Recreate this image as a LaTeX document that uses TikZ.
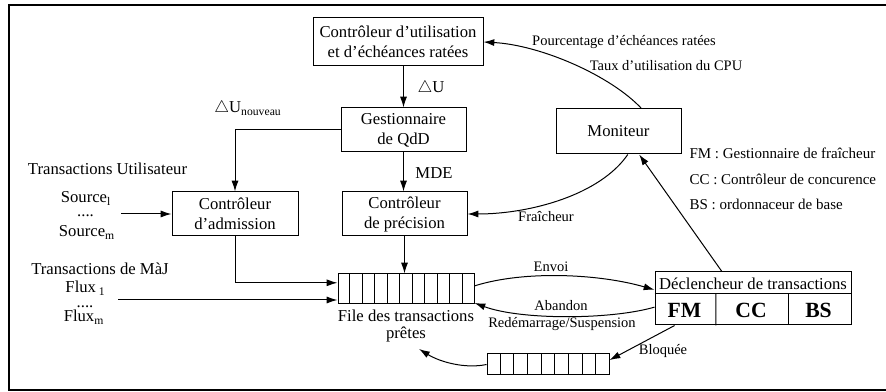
\documentclass[tikz,border=0pt]{standalone}
\usepackage{fontspec}
\setmainfont{Liberation Serif}
\usetikzlibrary{arrows.meta,calc}
\begin{document}
\begin{tikzpicture}[x=0.6pt,y=-0.6pt,
  every node/.style={font=\fontsize{10}{12}\selectfont, inner sep=0pt},
  box/.style={draw, line width=0.6pt, align=center},
  arr/.style={-{Latex[length=6.5pt,width=4.2pt]}, line width=0.6pt},
  lab/.style={font=\fontsize{8.7}{10}\selectfont, anchor=base},
  leg/.style={font=\fontsize{9}{11}\selectfont, anchor=base west},
  txt/.style={anchor=base},
  cellfont/.style={font=\fontsize{13}{15}\selectfont\bfseries},
  line width=0.6pt
]
\useasboundingbox (0,0) rectangle (886,392);
\draw[line width=1.2pt] (886,5) -- (9,5) -- (9,390) -- (886,390);

% boxes
\node[box, minimum width=102pt, minimum height=28.8pt] (util) at (398,42) {Contrôleur d’utilisation\\et d’échéances ratées};
\node[box, minimum width=75pt, minimum height=26.4pt] (qdd) at (403.5,130) {Gestionnaire\\de QdD};
\node[box, minimum width=75pt, minimum height=26.4pt] (prec) at (404.5,214) {Contrôleur\\de précision};
\node[box, minimum width=75.6pt, minimum height=26.4pt] (adm) at (235,214) {Contrôleur\\d’admission};
\node[box, minimum width=75pt, minimum height=27pt] (mon) at (618.5,131.5) {Moniteur};

% ready queue
\node[box, minimum width=81.6pt, minimum height=18pt] (q1) at (406,289) {};
\foreach \i in {1,...,10}
  \draw ($(q1.north west)!\i/11!(q1.north east)$) -- ($(q1.south west)!\i/11!(q1.south east)$);
\node[align=center, font=\fontsize{10}{10}\selectfont] (fq) at (406,326) {File des transactions\\prêtes};

% blocked queue
\node[box, minimum width=73.2pt, minimum height=12.6pt] (q2) at (548,364.5) {};
\foreach \i in {1,...,8}
  \draw ($(q2.north west)!\i/9!(q2.north east)$) -- ($(q2.south west)!\i/9!(q2.south east)$);

% dispatcher
\node[box, minimum width=117.6pt, minimum height=31.8pt] (decl) at (753,298.5) {};
\coordinate (dl) at ($(decl.north west)!0.415!(decl.south west)$);
\coordinate (dr) at ($(decl.north east)!0.415!(decl.south east)$);
\draw (dl) -- (dr);
\draw ($(dl)!0.311!(dr)$) -- ($(decl.south west)!0.311!(decl.south east)$);
\draw ($(dl)!0.679!(dr)$) -- ($(decl.south west)!0.679!(decl.south east)$);
\node (dtxt) at (753,283.5) {Déclencheur de transactions};
\node[cellfont] (fm) at (684.5,310) {FM};
\node[cellfont] (cc) at (751,310) {CC};
\node[cellfont] (bs) at (818.5,310) {BS};

% left texts
\node[txt] (tu) at (107.5,175) {Transactions Utilisateur};
\node[txt] (s1) at (86,203) {Source\textsubscript{l}};
\node[txt] (sd) at (85.5,217) {....};
\node[txt] (sm) at (87,237) {Source\textsubscript{m}};
\node[txt] (tm) at (100,275) {Transactions de MàJ};
\node[txt] (fl1) at (85.5,293) {Flux\,\textsubscript{1}};
\node[txt] (fd) at (85,308) {....};
\node[txt] (flm) at (84,322) {Flux\textsubscript{m}};

% legend
\node[leg] (lfm) at (689,159) {FM : Gestionnaire de fraîcheur};
\node[leg] (lcc) at (689,185) {CC : Contrôleur de concurence};
\node[leg] (lbs) at (689,210) {BS : ordonnaceur de base};

% labels
\node[txt] (ldu) at (431,93) {$\triangle$U};
\node[txt] (ldun) at (248,113) {$\triangle$U\textsubscript{nouveau}};
\node[txt] (lmde) at (434,179) {MDE};
\node[lab] (lpct) at (624,46) {Pourcentage d’échéances ratées};
\node[lab] (ltaux) at (666,71) {Taux d’utilisation du CPU};
\node[lab] (lfr) at (546,222) {Fraîcheur};
\node[lab] (lenv) at (551,272) {Envoi};
\node[lab] (laba) at (561,311) {Abandon};
\node[lab] (lred) at (562,328) {Redémarrage/Suspension};
\node[lab] (lblo) at (663,355) {Bloquée};

% connectors
\draw[arr] (qdd.north |- util.south) -- (qdd.north);
\draw[arr] (qdd.south) -- (qdd.south |- prec.north);
\draw[arr] (prec.south) -- (prec.south |- q1.north);
\draw[arr] (qdd.west) -| (adm.north);
\draw[arr] (adm.south) |- ($(q1.north west)!0.3!(q1.south west)$);
\coordinate (s0) at (121,214);
\draw[arr] (s0) -- (adm.west);
\coordinate (f0) at (118,300);
\draw[arr] (f0) -- (f0 -| q1.west);
\draw[arr] (mon.45) .. controls (610,75) and (540,45) .. (util.east);
\draw[arr] (mon.-68) .. controls (600,195) and (530,214) .. (prec.east);
\draw[arr] ($(decl.north west)!0.342!(decl.north east)$) -- ($(mon.south west)!0.664!(mon.south east)$);
\draw[arr] ($(q1.north east)!0.4!(q1.south east)$) .. controls (525,270) and (600,274) .. ($(decl.north west)!0.34!(decl.south west)$);
\draw[arr] ($(decl.north west)!0.66!(decl.south west)$) .. controls (610,320) and (520,320) .. ($(q1.north east)!0.95!(q1.south east)$);
\draw[arr] ($(decl.south west)!0.102!(decl.south east)$) -- ($(q2.north east)!0.3!(q2.south east)$);
\coordinate (fqin) at (419,349);
\draw[arr] (q2.west) .. controls (465,369) and (440,362) .. (fqin);
\end{tikzpicture}
\end{document}
